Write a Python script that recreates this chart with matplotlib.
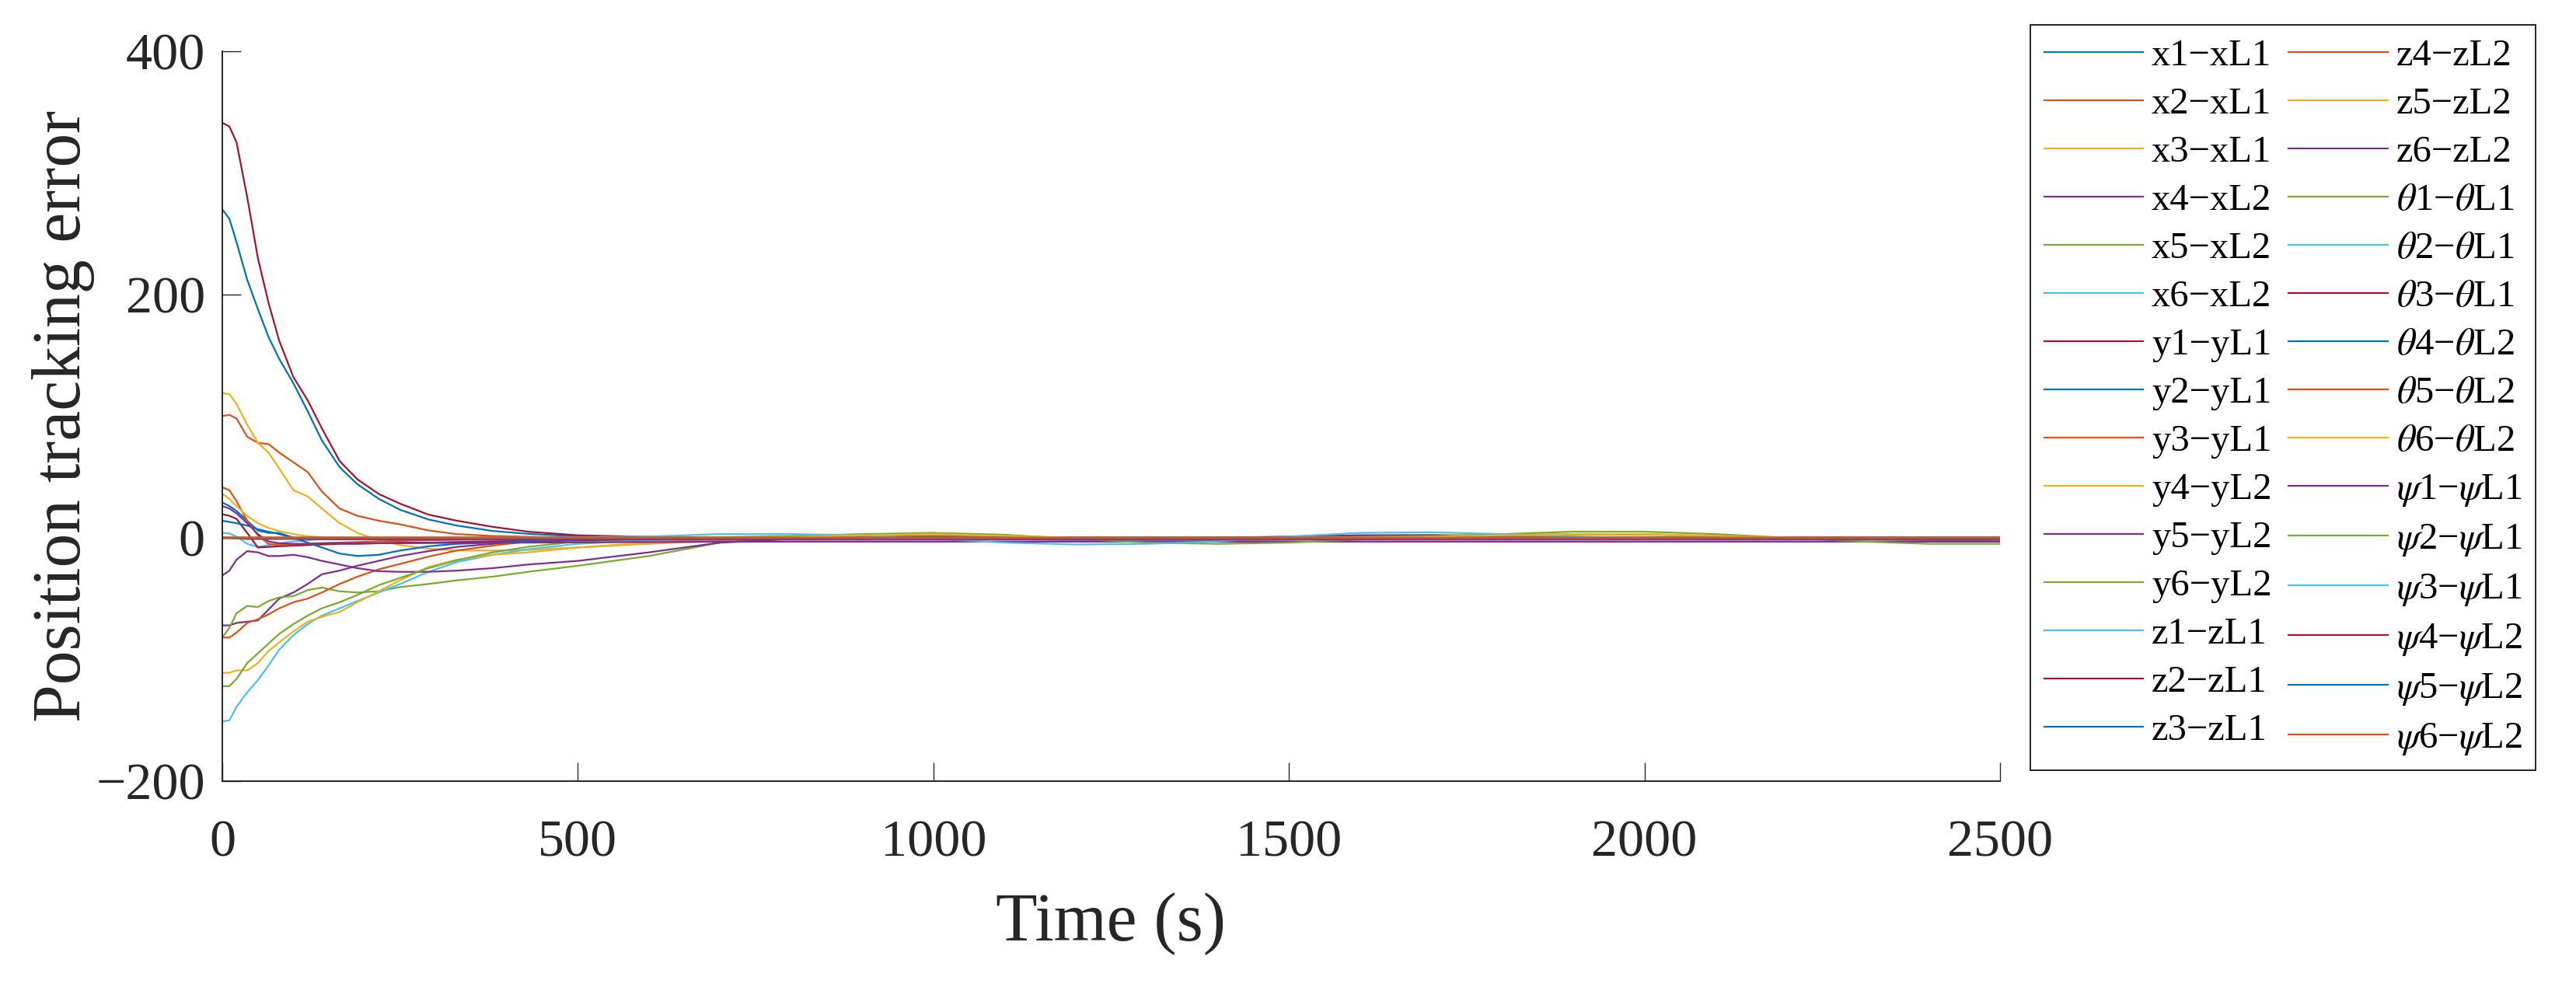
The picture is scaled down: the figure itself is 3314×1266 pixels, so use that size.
import matplotlib.pyplot as plt

plt.rcParams['font.family'] = ['Liberation Serif', 'DejaVu Serif']
plt.rcParams['mathtext.fontset'] = 'stix'

# time samples (s)
t = [0, 10, 20, 35, 50, 65, 80, 100, 120, 140, 165, 190, 220, 250, 290, 330, 380, 430, 500, 600,
     700, 800, 900, 1000, 1100, 1200, 1300, 1400, 1500, 1600, 1700, 1800, 1900, 2000, 2100, 2200, 2300, 2400, 2500]

# x errors
x_err = [
    [270, 262, 243, 212, 188, 165, 147, 127, 104, 80, 58, 44, 32, 23, 15, 10, 5.6, 3.2, 1.2, 0.5,
     0.2, 0, 0.3, 0.5, 0.3, 0, -0.3, -0.5, -0.2, 0.3, 0.6, 0.4, 0.1, -0.2, -0.4, -0.2, 0, 0.2, 0.1],
    [100, 101, 98, 83, 78, 77, 70, 62, 54, 38, 24, 18, 14, 11, 6, 3, 1.5, 0.8, 0.3, 0,
     0, 0.4, 0.8, 0.6, 0, -0.5, -0.8, -0.6, 0, 0.6, 1.0, 0.8, 0.4, 0, -0.4, -0.6, -0.4, 0, 0.2],
    [119, 118, 110, 93, 78, 70, 57, 39, 34, 24, 12, 4, -2, -6, -9, -10.5, -10.5, -10, -8, -5,
     -2.5, -1, 0.5, 1, 0.5, -0.5, -1, -1, 0, 1, 1.5, 1, 0.5, 0.2, -0.5, -1, -1, -0.5, 0],
    [-72, -72, -70, -69, -68, -59, -50, -45, -38, -30, -27, -23, -19, -15, -11, -7.5, -5, -3.5, -2, -0.5,
     0, 0.3, 0.6, 0.3, -0.3, -0.6, -0.6, -0.3, 0.3, 0.8, 1, 0.8, 0.3, 0, -0.3, -0.3, 0, 0, 0],
    [-82, -74, -62, -56, -57, -52, -49, -48, -43, -41, -44, -45, -44, -40.5, -38, -35, -32, -28, -23, -15,
     -4, -0.5, 1, 1.5, 0.8, -0.5, -1.5, -2, -1.5, -0.5, 0.8, 2, 2.5, 2.5, 1.5, 0, -1, -2, -2.5],
    [-151, -150, -139, -127, -117, -105, -92, -80, -71, -64, -58, -52, -45, -38, -28, -20, -14, -9.5, -5, -2,
     -0.5, 1, 1.5, 0.5, -1, -2, -2, -1, 0.5, 2, 2.5, 1.5, 0.5, 0, -0.5, -0.5, 0, 0, 0],
]

# y errors
y_err = [
    [341, 338, 325, 280, 230, 193, 162, 132, 113, 90, 63, 48, 36, 28, 19, 14, 9, 5, 2, 0.8,
     0.3, 0, 0, 0.2, 0.2, 0, -0.2, -0.2, 0, 0.2, 0.3, 0.2, 0, 0, -0.2, -0.2, 0, 0, 0],
    [29, 26, 22, 14, 6, 4, 4, 0, -1, -1, -0.5, 0, 0, 0, 0, 0, 0, 0, 0, 0,
     0, 0, 0, 0, 0, 0, 0, 0, 0, 0, 0, 0, 0, 0, 0, 0, 0, 0, 0],
    [-82, -82, -78, -70, -67, -63, -58, -53, -50, -45, -38, -32, -26, -21.5, -15.5, -10.5, -6.5, -3, -1.5, -0.5,
     0, 0.5, 1, 0.5, 0, -0.5, -0.5, 0, 0.5, 1, 1, 0.5, 0, 0, -0.5, -0.5, -0.3, 0, 0],
    [-111, -111, -109, -109, -103, -93, -86, -77, -69, -65, -61, -53, -44, -35, -24, -18, -14, -12, -8, -4,
     -1, 0, 1.5, 2.5, 1.5, 0, -1, -1, 0, 1, 2, 2.5, 3, 3, 1.5, 0, -1, -1, -0.5],
    [-31, -27, -18, -11, -12, -15, -15, -14, -16, -19, -22, -25, -27.5, -28, -28, -27, -25, -22, -19, -12,
     -4, -1, 0.5, 1, 0.5, 0, -0.3, 0, 1, 2, 2, 1, 0, -0.5, -0.5, 0, 0, 0, 0],
    [-122, -122, -116, -103, -95, -87, -79, -71, -64, -58, -53, -47, -39, -33, -25, -18.5, -12, -7.5, -3, -1,
     0, 0, 0.5, 0.5, 0, -0.5, -0.5, 0, 0, 0.5, 0.5, 0, 0, 0, -0.5, -0.5, 0, 0, 0],
]

# z errors
z_err = [
    [4, 3.5, 1, -5, -7.5, -6, -4.5, -3, -2, -1, -0.5, 0, 0, 0, 0, 0, 0, 0, 0, 0,
     0, 0, 0, 0, 0, 0, 0, 0, 0, 0, 0, 0, 0, 0, 0, 0, 0, 0, 0],
    [19.4, 18, 15.5, 4, -8, -7.5, -7, -6.5, -6, -5.5, -5, -5, -4.5, -4, -4, -3.5, -3, -2.5, -2, -1,
     -0.5, 0, 0, 0, 0, 0, 0, 0, 0, 0, 0, 0, 0, 0, 0, 0, 0, 0, 0],
    [14, 13, 12, 10, 7, 5, 3, 0, -4, -8, -13, -15, -14, -10.5, -7, -5, -4, -2.5, -1.5, -0.5,
     0, 0, 0, 0, 0, 0, 0, 0, 0, 0, 0, 0, 0, 0, 0, 0, 0, 0, 0],
    [41.5, 39, 30, 14, 2, -5, -6, -5.5, -5, -4.5, -4, -3.5, -3, -2.5, -2, -1.5, -1, -0.5, 0, 0,
     0, 0, 0, 0, 0, 0, 0, 0, 0, 0, 0, 0, 0, 0, 0, 0, 0, 0, 0],
    [36, 32, 26, 18, 12, 8, 5.5, 3, 1.2, 0.5, 0.2, 0, 0, 0, 0, 0, 0, 0, 0, 0,
     0, 0, 0, 0, 0, 0, 0, 0, 0, 0, 0, 0, 0, 0, 0, 0, 0, 0, 0],
    [26, 24, 20, 12, 3, -3, -4.5, -5, -5, -4.5, -4.5, -4.5, -4.5, -4.5, -4.3, -4.2, -4, -4, -3.8, -3.5,
     -3.3, -3.2, -3.2, -3.2, -3.2, -3.2, -3.2, -3.2, -3.2, -3.2, -3.2, -3.2, -3.2, -3.2, -3.2, -3.2, -3.2, -3.2, -3.2],
]

# theta errors
th_err = [
    [0, 0, 0, 0, 0, 0, 0, 0, 0, 0, 0, 0, 0, 0, 0, 0, 0, 0, 0, 0.5,
     0.5, 1.5, 3, 4, 2.5, -1, -4, -5, -4, -1.5, 1, 3, 5, 5, 3, 0, -3, -5, -5],
    [0, 0, 0, 0, 0, 0, 0, 0, 0, 0, 0, 0, 0, 0, 0, 0, 0, 0.3, 0.6, 1,
     3, 3, 2, -1, -4, -5.5, -5, -3, 1, 4, 4.5, 3, 1, -0.5, -1, -0.5, 0, 0, 0],
    [0, 0, 0, 0, 0, 0, 0, 0, 0, 0, 0, 0, 0, 0, 0, 0, 0, 0, 0, 0,
     0, 0, 0, 0, 0, 0, 0, 0, 0, 0, 0, 0, 0, 0, 0, 0, 0, 0, 0],
    [0, 0, 0, 0, 0, 0, 0, 0, 0, 0, 0, 0, 0, 0, 0, 0, 0, 0, 0, 0,
     0, 0, 0, 0, 0, 0, 0, 0, 0, 0, 0, 0, 0, 0, 0, 0, 0, 0, 0],
    [0, 0, 0, 0, 0, 0, 0, 0, 0, 0, 0, 0, 0, 0, 0, 0, 0, 0, 0, 0,
     0, 0, 0, 0, 0, 0, 0, 0, 0, 0, 0, 0, 0, 0, 0, 0, 0, 0, 0],
    [0, 0, 0, 0, 0, 0, 0, 0, 0, 0, 0, 0, 0, 0, 0, 0, 0, 0, 0, 0,
     0, 0.5, 2, 3, 1.5, 0, -0.5, -0.5, 0, 0.5, 1, 2, 3, 3, 1.5, 0, -1, -1, -0.5],
]

# psi errors
psi_err = [
    [0, 0, -0.5, -1, -1, -1, -1, -1, -1.2, -1.2, -1.3, -1.3, -1.4, -1.4, -1.5, -1.5, -1.5, -1.5, -1.5, -1.5,
     -1.5, -1.5, -1.5, -1.5, -1.5, -1.5, -1.5, -1.5, -1.5, -1.5, -1.5, -1.5, -1.5, -1.5, -1.5, -1.5, -1.5, -1.5, -1.5],
    [0, 0, 0, 0, 0, 0, 0, 0, 0, 0, 0, 0, 0, 0, 0, 0, 0, 0, 0, 0,
     0, 0, 0, 0, 0, 0, 0, 0, 0, 0, 0, 0, 0, 0, 0, 0, 0, 0, 0],
    [0, 0, 0, 0, 0, 0, 0, 0, 0, 0, 0, 0, 0, 0, 0, 0, 0, 0, 0, 0,
     0, 0, 0, 0, 0, 0, 0, 0, 0, 0, 0, 0, 0, 0, 0, 0, 0, 0, 0],
    [0, 0, 0, 0, 0, 0, 0, 0, 0, 0, 0, 0, 0, 0, 0, 0, 0, 0, 0, 0,
     0, 0, 0, 0, 0, 0, 0, 0, 0, 0, 0, 0, 0, 0, 0, 0, 0, 0, 0],
    [0, 0, 0, 0, 0, 0, 0, 0, 0, 0, 0, 0, 0, 0, 0, 0, 0, 0, 0, 0,
     0, 0, 0, 0, 0, 0, 0, 0, 0, 0, 0, 0, 0, 0, 0, 0, 0, 0, 0],
    [0, 0, 0, 0, 0, 0, 0, 0, 0, 0, 0, 0, 0, 0, 0, 0, 0, 0, 0, 0,
     0, 0, 0, 0, 0, 0, 0, 0, 0, 0, 0, 0, 0, 0, 0, 0, 0, 0, 0],
]

M = '\u2212'  # minus sign used in the legend entries
labels = [
    'x1' + M + 'xL1', 'x2' + M + 'xL1', 'x3' + M + 'xL1', 'x4' + M + 'xL2', 'x5' + M + 'xL2', 'x6' + M + 'xL2',
    'y1' + M + 'yL1', 'y2' + M + 'yL1', 'y3' + M + 'yL1', 'y4' + M + 'yL2', 'y5' + M + 'yL2', 'y6' + M + 'yL2',
    'z1' + M + 'zL1', 'z2' + M + 'zL1', 'z3' + M + 'zL1', 'z4' + M + 'zL2', 'z5' + M + 'zL2', 'z6' + M + 'zL2',
    r'$\theta$1' + M + r'$\theta$L1', r'$\theta$2' + M + r'$\theta$L1', r'$\theta$3' + M + r'$\theta$L1',
    r'$\theta$4' + M + r'$\theta$L2', r'$\theta$5' + M + r'$\theta$L2', r'$\theta$6' + M + r'$\theta$L2',
    r'$\psi$1' + M + r'$\psi$L1', r'$\psi$2' + M + r'$\psi$L1', r'$\psi$3' + M + r'$\psi$L1',
    r'$\psi$4' + M + r'$\psi$L2', r'$\psi$5' + M + r'$\psi$L2', r'$\psi$6' + M + r'$\psi$L2',
]

x_ticks = [0, 500, 1000, 1500, 2000, 2500]
y_ticks = [-200, 0, 200, 400]

# matlab default line colours
colors = ['#0072BD', '#D95319', '#EDB120', '#7E2F8E', '#77AC30', '#4DBEEE', '#A2142F']
txt = '#262626'

fig = plt.figure(figsize=(16.57, 6.33), dpi=200)
ax = fig.add_axes([0.0863, 0.2062, 0.6901, 0.7419])

series = x_err + y_err + z_err + th_err + psi_err
for k, (vals, lab) in enumerate(zip(series, labels)):
    ax.plot(t, vals, color=colors[k % len(colors)], lw=0.8, label=lab)

ax.set_xlim(0, 2500)
ax.set_ylim(-200, 400)
ax.set_xticks(x_ticks)
ax.set_yticks(y_ticks)
ax.spines[['top', 'right']].set_visible(False)
for s in ['left', 'bottom']:
    ax.spines[s].set_linewidth(0.7)
    ax.spines[s].set_color(txt)
ax.tick_params(direction='in', length=8.6, width=0.5, labelsize=24.5, colors=txt)
ax.tick_params(axis='x', pad=18)
ax.tick_params(axis='y', pad=8)

ax.set_xlabel('Time (s)', fontsize=31.5, color=txt)
ax.xaxis.set_label_coords(0.5, -0.152)
ax.set_ylabel('Position tracking error', fontsize=31.5, color=txt)
ax.yaxis.set_label_coords(-0.0717, 0.5)

leg = ax.legend(ncol=2, loc='upper left', bbox_to_anchor=(2612 / 3314, 1 - 32 / 1266),
                bbox_transform=fig.transFigure, fontsize=17.5, frameon=True, fancybox=False,
                edgecolor=txt, framealpha=1, borderpad=0.36, labelspacing=0.37,
                handlelength=2.63, handletextpad=0.22, columnspacing=0.45, borderaxespad=0)
leg.get_frame().set_linewidth(0.7)

fig.savefig('out.png', dpi=200)
